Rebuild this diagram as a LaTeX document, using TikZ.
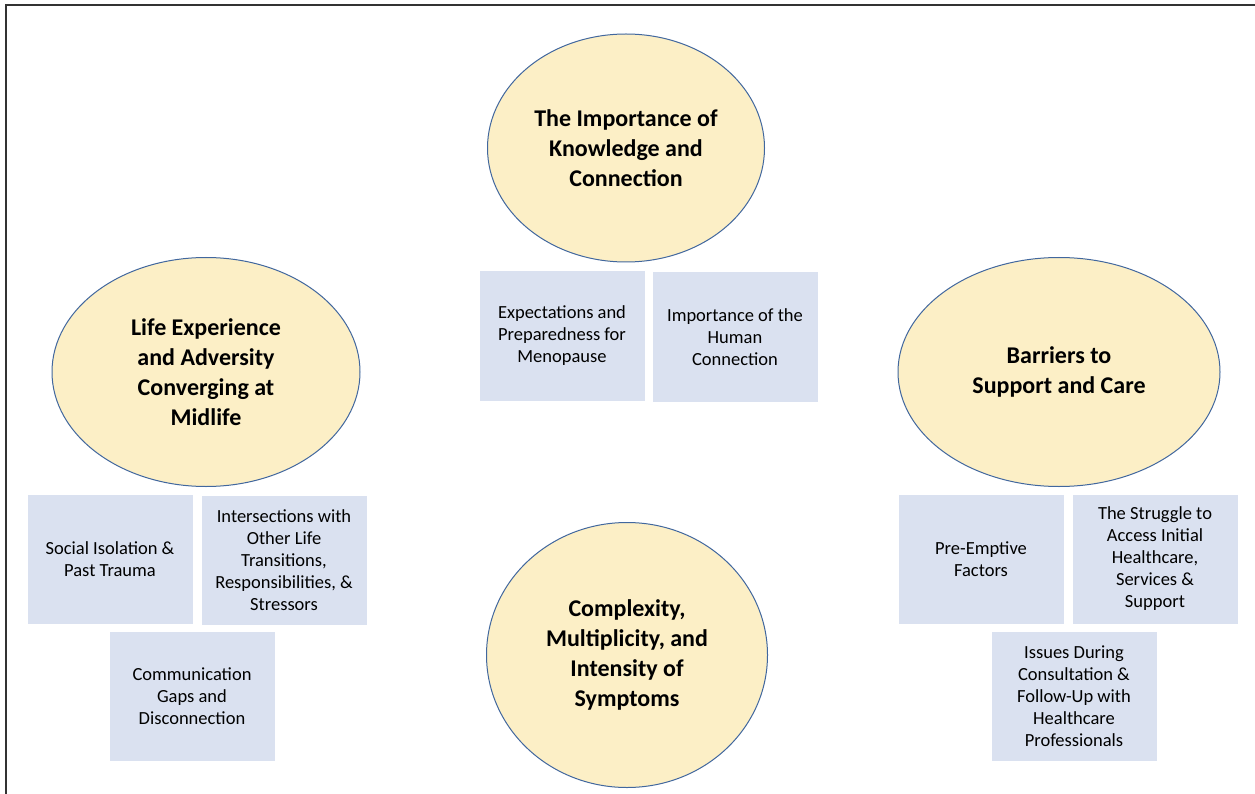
\documentclass[tikz,border=0pt]{standalone}
\usepackage{fontspec}
\setmainfont{Carlito}
\usetikzlibrary{shapes.geometric}
\definecolor{themefill}{HTML}{FCEFC6}
\definecolor{themeline}{HTML}{41679E}
\definecolor{subfill}{HTML}{DAE1F0}
\begin{document}
\begin{tikzpicture}[x=1pt,y=-1pt,
  theme/.style={ellipse,draw=themeline,line width=1pt,fill=themefill,align=center,
    font=\bfseries\fontsize{24}{30}\selectfont,inner sep=0pt},
  subtheme/.style={rectangle,fill=subfill,minimum width=165pt,minimum height=129pt,
    align=center,font=\fontsize{18.5}{22}\selectfont,inner sep=2pt}]
\useasboundingbox (0,0) rectangle (1255,794);
\fill[white] (0,0) rectangle (1255,794);
\draw[line width = 1.3pt,black!80] (6,794) -- (6,5) -- (1255,5);

% main themes
\node[theme,minimum width=277pt,minimum height=228pt] (know) at (626,148)
  {The Importance of\\Knowledge and\\Connection};
\node[theme,minimum width=308pt,minimum height=229pt] (life) at (206,372)
  {Life Experience\\and Adversity\\Converging at\\Midlife};
\node[theme,minimum width=322pt,minimum height=229pt] (barrier) at (1059,372)
  {Barriers to\\Support and Care};
\node[theme,minimum width=281pt,minimum height=265pt] (symptom) at (627,655)
  {\raisebox{-6pt}{\begin{tabular}{@{}c@{}}Complexity,\\Multiplicity, and\\Intensity of\\Symptoms\end{tabular}}};

% sub-themes
\node[subtheme] (expect) at (562,336) {Expectations and\\Preparedness for\\Menopause};
\node[subtheme] (human) at (735,337) {Importance of the\\Human\\Connection};

\node[subtheme] (isolation) at (110,559) {Social Isolation \&\\Past Trauma};
\node[subtheme] (intersect) at (284,560) {Intersections with\\Other Life\\Transitions,\\Responsibilities, \&\\Stressors};
\node[subtheme] (communic) at (192,696) {Communication\\Gaps and\\Disconnection};

\node[subtheme] (preempt) at (981,559) {Pre-Emptive\\Factors};
\node[subtheme] (struggle) at (1155,559) {The Struggle to\\Access Initial\\Healthcare,\\Services \&\\Support};
\node[subtheme] (issues) at (1074,696) {Issues During\\Consultation \&\\Follow-Up with\\Healthcare\\Professionals};
\end{tikzpicture}
\end{document}
